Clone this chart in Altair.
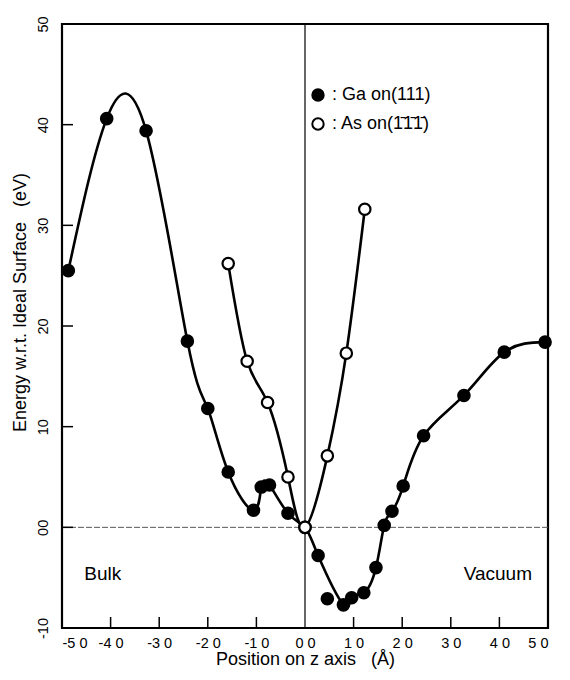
import altair as alt
import pandas as pd

# ---- data ----
ga_x = [-48.7, -40.8, -32.7, -24.2, -20.0, -15.8, -10.6, -9.0, -7.3, -3.5, 0.0, 2.7,
        4.6, 7.9, 9.6, 12.1, 14.6, 16.3, 17.9, 20.2, 24.4, 32.7, 41.0, 49.4]
ga_y = [25.5, 40.6, 39.4, 18.5, 11.8, 5.5, 1.7, 4.0, 4.2, 1.4, 0.0, -2.8,
        -7.1, -7.7, -7.0, -6.5, -4.0, 0.2, 1.6, 4.1, 9.1, 13.1, 17.4, 18.4]
ga_on_curve = [True] * 12 + [False] + [True] * 11

as_x = [-15.8, -11.9, -7.7, -3.5, 0.0, 4.6, 8.5, 12.3]
as_y = [26.2, 16.5, 12.4, 5.0, 0.0, 7.1, 17.3, 31.6]

ga_name = "Ga on(111)"
as_name = "As on(1\u03041\u03041\u0304)"

x_ticks = [-40, -30, -20, -10, 10, 20, 30, 40]
y_ticks = [-10, 0, 10, 20, 30, 40]
x_labels = {-50: "-5 0", -40: "-4 0", -30: "-3 0", -20: "-2 0", -10: "-1 0",
            0: "0 0", 10: "1 0", 20: "2 0", 30: "3 0", 40: "4 0", 50: "5 0"}
y_labels = {-10: "-10", 0: "00", 10: "10", 20: "20", 30: "30", 40: "40", 50: "50"}

region_left_text = ["Bulk"]
region_left_x = [-45.4]
region_left_y = [-5.2]
region_right_text = ["Vacuum"]
region_right_x = [46.7]
region_right_y = [-5.2]

FONT = "Liberation Sans"
W, H = 486, 604

pts = pd.DataFrame(
    {"x": ga_x + as_x,
     "y": ga_y + as_y,
     "series": [ga_name] * len(ga_x) + [as_name] * len(as_x),
     "on_curve": ga_on_curve + [True] * len(as_x)}
)
curve = pts[pts["on_curve"]]

def label_expr(d):
    parts = []
    for k, v in d.items():
        parts.append(f"datum.value == {k} ? '{v}'")
    return " : ".join(parts) + " : ''"

xs = alt.Scale(domain=[-50, 50], nice=False, zero=False)
ys = alt.Scale(domain=[-10, 50], nice=False, zero=False)

x_enc = alt.X("x:Q", scale=xs, axis=alt.Axis(
    values=list(x_labels.keys()), labelExpr=label_expr(x_labels),
    title="Position on z axis\u00a0\u00a0\u00a0(Å)", ticks=False, domain=False, grid=False,
    labelFontSize=14.5, labelFont=FONT, labelColor="black", labelPadding=8,
    titleFontSize=18, titleFont=FONT, titleFontWeight="normal", titleColor="black",
    titlePadding=1))
y_enc = alt.Y("y:Q", scale=ys, axis=alt.Axis(
    values=list(y_labels.keys()), labelExpr=label_expr(y_labels),
    title="Energy w.r.t. Ideal Surface\u00a0\u00a0\u00a0(eV)", ticks=False, domain=False, grid=False,
    labelAngle=270, labelFontSize=14.5, labelFont=FONT, labelColor="black", labelPadding=12,
    titleFontSize=18, titleFont=FONT, titleFontWeight="normal", titleColor="black",
    titleX=-42, titleY=278, titleBaseline="middle"))

zero_h = alt.Chart(pd.DataFrame({"y": [0]})).mark_rule(
    color="#555", strokeWidth=1, strokeDash=[6, 2]).encode(y=alt.Y("y:Q", scale=ys))
zero_v = alt.Chart(pd.DataFrame({"x": [0]})).mark_rule(
    color="black", strokeWidth=1.2).encode(x=alt.X("x:Q", scale=xs))

xt = alt.Chart(pd.DataFrame({"x": x_ticks})).mark_rule(color="black", strokeWidth=1.5).encode(
    x=alt.X("x:Q", scale=xs), y=alt.value(H), y2=alt.value(H - 11))
yt = alt.Chart(pd.DataFrame({"y": y_ticks})).mark_rule(color="black", strokeWidth=1.5).encode(
    y=alt.Y("y:Q", scale=ys), x=alt.value(0), x2=alt.value(11))

lines = alt.Chart(curve).mark_line(interpolate="natural", color="black", strokeWidth=2.6).encode(
    x=x_enc, y=y_enc, detail="series:N")

points = alt.Chart(pts).mark_point(shape="circle", size=130, stroke="black", strokeWidth=2.2,
                                   opacity=1, filled=False).encode(
    x=alt.X("x:Q", scale=xs), y=alt.Y("y:Q", scale=ys),
    fill=alt.Fill("series:N", scale=alt.Scale(domain=[ga_name, as_name], range=["black", "white"]),
                  legend=alt.Legend(title=None, orient="none", legendX=247, legendY=62,
                                    symbolType="circle", symbolSize=130, symbolStrokeColor="black",
                                    symbolStrokeWidth=2, labelExpr="':  ' + datum.label",
                                    labelFont=FONT, labelFontSize=18, labelColor="black",
                                    rowPadding=9, symbolOffset=0, labelOffset=5)))

text_left = alt.Chart(pd.DataFrame({"t": region_left_text, "x": region_left_x, "y": region_left_y})).mark_text(
    font=FONT, fontSize=19, color="black", baseline="alphabetic", align="left").encode(
    x=alt.X("x:Q", scale=xs), y=alt.Y("y:Q", scale=ys), text="t:N")
text_right = alt.Chart(pd.DataFrame({"t": region_right_text, "x": region_right_x, "y": region_right_y})).mark_text(
    font=FONT, fontSize=19, color="black", baseline="alphabetic", align="right").encode(
    x=alt.X("x:Q", scale=xs), y=alt.Y("y:Q", scale=ys), text="t:N")

chart = alt.layer(zero_h, zero_v, xt, yt, lines, points, text_left, text_right).properties(
    width=W, height=H,
    padding={"left": 54, "top": 16, "right": 12, "bottom": 44},
    autosize=alt.AutoSizeParams(type="none"),
    background="white",
).configure_view(stroke="black", strokeWidth=2.2)

chart.save("out.html", embed_options={"renderer": "svg", "actions": False})
